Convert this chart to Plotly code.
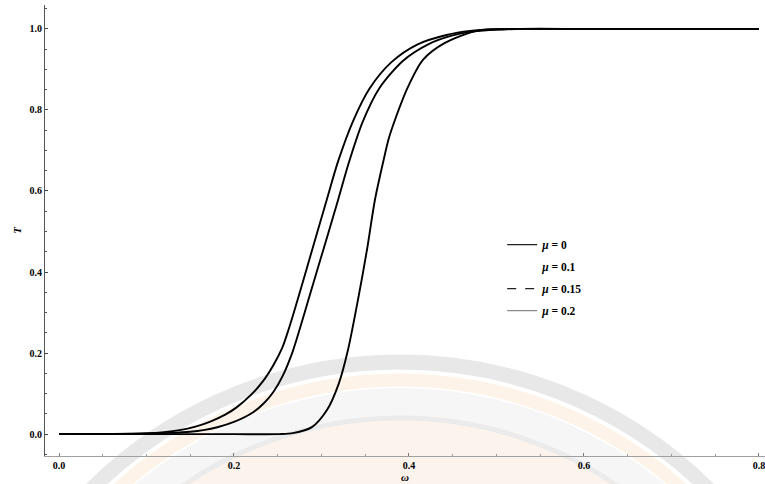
import plotly.graph_objects as go

# Curve data (omega, T)
omega_a = [0.0, 0.05, 0.08, 0.10, 0.12, 0.138, 0.155, 0.173, 0.19, 0.203, 0.22, 0.233, 0.245, 0.255,
           0.263, 0.272, 0.289, 0.306, 0.319, 0.336, 0.355, 0.38, 0.41, 0.443, 0.47, 0.50, 0.53,
           0.60, 0.70, 0.80]
t_a = [0.0, 0.0002, 0.001, 0.002, 0.005, 0.010, 0.018, 0.031, 0.048, 0.066, 0.098, 0.130, 0.170, 0.212,
       0.262, 0.326, 0.452, 0.578, 0.673, 0.772, 0.853, 0.918, 0.962, 0.985, 0.995, 0.999, 1.0,
       1.0, 1.0, 1.0]

omega_b = [0.0, 0.05, 0.10, 0.127, 0.15, 0.165, 0.181, 0.20, 0.222, 0.235, 0.245, 0.256, 0.267, 0.275,
           0.285, 0.302, 0.319, 0.331, 0.347, 0.366, 0.393, 0.422, 0.45, 0.48, 0.51, 0.54,
           0.60, 0.70, 0.80]
t_b = [0.0, 0.0001, 0.001, 0.003, 0.006, 0.010, 0.017, 0.030, 0.054, 0.078, 0.104, 0.145, 0.203, 0.258,
       0.331, 0.454, 0.578, 0.668, 0.770, 0.853, 0.921, 0.962, 0.984, 0.995, 0.999, 1.0,
       1.0, 1.0, 1.0]

omega_c = [0.0, 0.10, 0.20, 0.2526, 0.2674, 0.2891, 0.3063, 0.3200, 0.3303, 0.3417, 0.3520, 0.3611,
           0.3710, 0.3770, 0.3840, 0.3989, 0.4160, 0.4411, 0.4777, 0.527, 0.60, 0.70, 0.80]
t_c = [0.0, 0.0, 0.0, 0.0, 0.0025, 0.0173, 0.0593, 0.1259, 0.2074, 0.3309, 0.4543, 0.5778,
       0.6760, 0.7300, 0.7753, 0.8568, 0.9235, 0.9654, 0.9951, 1.0, 1.0, 1.0, 1.0]

legend_labels = ["<b><i>μ</i> = 0</b>", "<b><i>μ</i> = 0.1</b>", "<b><i>μ</i> = 0.15</b>", "<b><i>μ</i> = 0.2</b>"]
legend_colors = ["#222222", "rgba(0,0,0,0)", "#222222", "#8a8a8a"]
legend_dash = ["solid", "solid", "dash", "solid"]

x_ticks = [0.0, 0.2, 0.4, 0.6, 0.8]
y_ticks = [0.0, 0.2, 0.4, 0.6, 0.8, 1.0]

W, H = 765, 484
ML, MR, MT, MB = 45, 0, 5, 28


def px(x):
    return (x - ML) / (W - ML - MR)


def py(y):
    return (H - MB - y) / (H - MT - MB)


def circ(cx, cy, r):
    return dict(x0=px(cx - r), x1=px(cx + r), y0=py(cy + r), y1=py(cy - r))


# faint watermark emblem behind the plot
shapes = []
cx, cy = 400, 800
shapes.append(dict(type="circle", xref="paper", yref="paper", layer="below",
                   fillcolor="#f6f6f6", line=dict(width=0), **circ(cx, cy, 412)))
shapes.append(dict(type="circle", xref="paper", yref="paper", layer="below",
                   fillcolor="rgba(0,0,0,0)", line=dict(color="#e8e8e8", width=15), **circ(cx, cy, 438)))
shapes.append(dict(type="circle", xref="paper", yref="paper", layer="below",
                   fillcolor="rgba(0,0,0,0)", line=dict(color="#fdf3e8", width=13), **circ(cx, cy, 420)))
shapes.append(dict(type="circle", xref="paper", yref="paper", layer="below",
                   fillcolor="#fcf4ec", line=dict(color="#ebebeb", width=5), **circ(cx, cy, 382)))

fig = go.Figure()

for xs, ys in [(omega_a, t_a), (omega_b, t_b), (omega_c, t_c)]:
    fig.add_trace(go.Scatter(x=xs, y=ys, mode="lines",
                             line=dict(color="black", width=1.9, shape="spline", smoothing=0.8),
                             showlegend=False, hoverinfo="skip"))

for i, (lab, col, dsh) in enumerate(zip(legend_labels, legend_colors, legend_dash)):
    fig.add_trace(go.Scatter(x=[None], y=[None], mode="lines", name=lab, legendgroup="g%d" % i,
                             line=dict(color=col, width=1.2, dash=dsh)))

serif = "Liberation Serif"

fig.update_layout(
    width=W, height=H,
    margin=dict(l=ML, r=MR, t=MT, b=MB),
    paper_bgcolor="white", plot_bgcolor="white",
    font=dict(family=serif, size=10, color="black"),
    shapes=shapes,
    showlegend=True,
    legend=dict(x=0.635, y=0.501, xanchor="left", yanchor="top", bgcolor="rgba(0,0,0,0)",
                font=dict(family=serif, size=11.5, color="black"), itemwidth=30, tracegroupgap=3),
    xaxis=dict(range=[-0.016, 0.807], tickvals=x_ticks, ticktext=["<b>%.1f</b>" % v for v in x_ticks],
               showgrid=False, zeroline=False, showline=True, linecolor="#a0a0a0", linewidth=1,
               ticks="inside", ticklen=3, tickcolor="#777", ticklabeloverflow="allow",
               minor=dict(ticks="inside", ticklen=2, tickcolor="#999", dtick=0.05),
               title=dict(text="<b><i>ω</i></b>", standoff=0, font=dict(size=11))),
    yaxis=dict(range=[-0.054, 1.059], tickvals=y_ticks, ticktext=["<b>%.1f</b>" % v for v in y_ticks],
               showgrid=False, zeroline=False, showline=True, linecolor="#555", linewidth=1,
               ticks="inside", ticklen=3, tickcolor="#444",
               minor=dict(ticks="inside", ticklen=2, tickcolor="#555", dtick=0.05),
               title=dict(text="<b><i>T</i></b>", standoff=5, font=dict(size=11))),
)

fig.write_html("out.html")
